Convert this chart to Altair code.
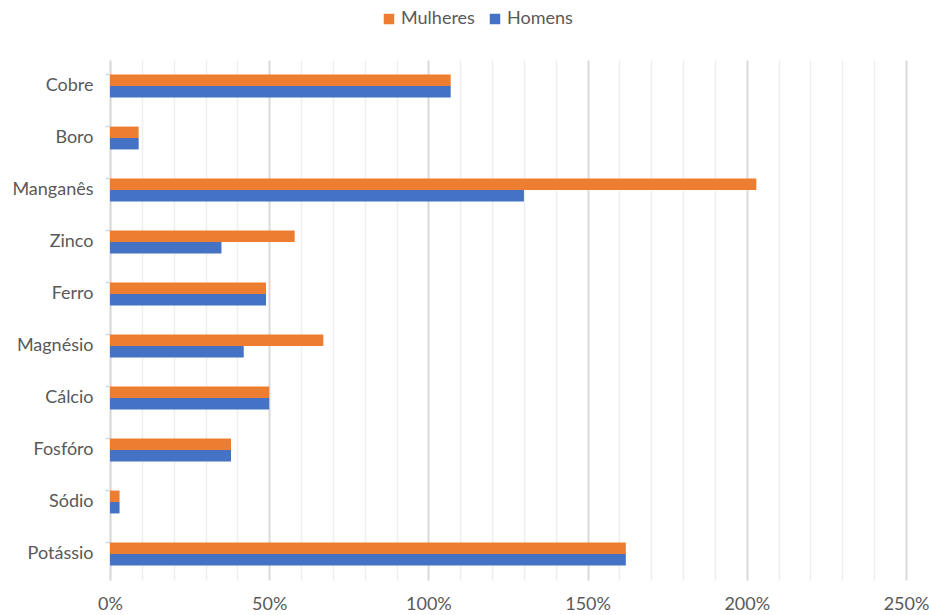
import altair as alt
import pandas as pd

minerais = ["Cobre", "Boro", "Manganês", "Zinco", "Ferro", "Magnésio", "Cálcio", "Fosfóro", "Sódio", "Potássio"]
mulheres = [107, 9, 203, 58, 49, 67, 50, 38, 3, 162]
homens = [107, 9, 130, 35, 49, 42, 50, 38, 3, 162]
grupos = ["Mulheres", "Homens"]
cores = ["#ED7D31", "#4472C4"]
ticks_x = list(range(0, 251, 10))

rows = []
for m, vm, vh in zip(minerais, mulheres, homens):
    rows.append({"Mineral": m, "Grupo": "Mulheres", "Valor": vm})
    rows.append({"Mineral": m, "Grupo": "Homens", "Valor": vh})
df = pd.DataFrame(rows)

font = "Lato"
txt = "#595959"

chart = alt.Chart(df).mark_bar().encode(
    y=alt.Y(
        "Mineral:N",
        sort=minerais,
        scale=alt.Scale(paddingInner=0.56, paddingOuter=0.28),
        axis=alt.Axis(
            title=None, bandPosition=0,
            domainColor="#d9d9d9", domainWidth=1.5,
            tickColor="#d9d9d9", tickSize=5, tickWidth=1.5,
            labelPadding=12, labelFontSize=18, labelColor=txt, labelFont=font,
            grid=False,
        ),
    ),
    yOffset=alt.YOffset("Grupo:N", sort=grupos),
    x=alt.X(
        "Valor:Q",
        scale=alt.Scale(domain=[0, 250], nice=False),
        axis=alt.Axis(
            values=ticks_x,
            labelExpr="datum.value % 50 == 0 ? datum.value + '%' : ''",
            title=None, domain=False, ticks=False,
            labelOverlap=False, labelFlush=False,
            labelFontSize=18, labelColor=txt, labelFont=font, labelPadding=15,
            gridColor={"condition": {"test": "datum.value % 50 == 0", "value": "#d9d9d9"}, "value": "#efefef"},
            gridWidth={"condition": {"test": "datum.value % 50 == 0", "value": 2}, "value": 1.5},
        ),
    ),
    color=alt.Color(
        "Grupo:N",
        scale=alt.Scale(domain=grupos, range=cores),
        legend=alt.Legend(
            title=None, orient="none", legendX=270, legendY=-50,
            direction="horizontal", symbolType="square", symbolSize=110,
            symbolStrokeWidth=0, labelFontSize=18, labelColor=txt, labelFont=font,
            labelOffset=3, columnPadding=11,
        ),
    ),
).properties(
    width=796, height=520,
    autosize=alt.AutoSizeParams(type="none"),
    padding={"left": 110, "top": 60, "right": 23, "bottom": 35},
).configure_view(stroke=None)

chart.save("out.html", embed_options={"renderer": "svg", "actions": False})
